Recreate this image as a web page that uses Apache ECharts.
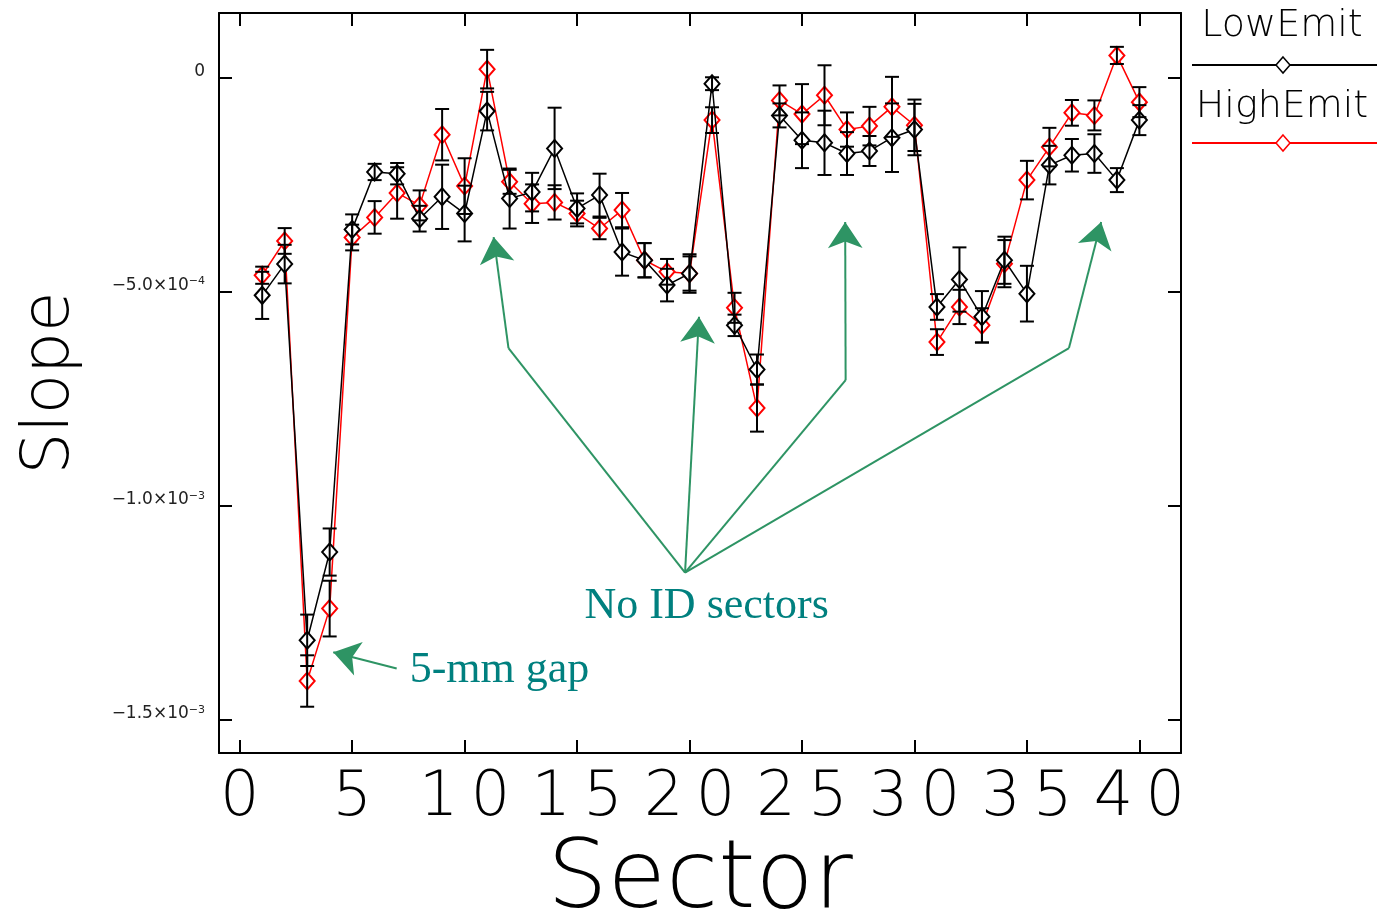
<!DOCTYPE html>
<html>
<head>
<meta charset="utf-8">
<title>Slope vs Sector</title>
<script src="https://cdn.jsdelivr.net/npm/echarts@6/dist/echarts.min.js"></script>
<style>
    html, body { margin: 0; padding: 0; background: #fff; }
    #main { width: 1378px; height: 914px; }
</style>
</head>
<body>
<div id="main"></div>
<script>
    // values
    var sectors = [1, 2, 3, 4, 5, 6, 7, 8, 9, 10, 11, 12, 13, 14, 15, 16, 17, 18, 19, 20,
                   21, 22, 23, 24, 25, 26, 27, 28, 29, 30, 31, 32, 33, 34, 35, 36, 37, 38, 39, 40];
    var lowEmit = [-5.09e-4, -4.36e-4, -13.14e-4, -11.08e-4, -3.55e-4, -2.21e-4, -2.25e-4, -3.30e-4, -2.79e-4, -3.18e-4,
                   -0.79e-4, -2.83e-4, -2.68e-4, -1.66e-4, -3.06e-4, -2.75e-4, -4.08e-4, -4.27e-4, -4.85e-4, -4.58e-4,
                   -0.15e-4, -5.79e-4, -6.82e-4, -0.89e-4, -1.47e-4, -1.53e-4, -1.78e-4, -1.72e-4, -1.41e-4, -1.22e-4,
                   -5.36e-4, -4.72e-4, -5.59e-4, -4.27e-4, -5.05e-4, -2.05e-4, -1.82e-4, -1.78e-4, -2.40e-4, -1.00e-4];
    var lowErr = [0.55e-4, 0.45e-4, 0.60e-4, 0.55e-4, 0.35e-4, 0.19e-4, 0.25e-4, 0.30e-4, 0.75e-4, 0.65e-4,
                  0.45e-4, 0.70e-4, 0.45e-4, 0.95e-4, 0.35e-4, 0.50e-4, 0.55e-4, 0.40e-4, 0.38e-4, 0.45e-4,
                  0.15e-4, 0.25e-4, 0.35e-4, 0.28e-4, 0.65e-4, 0.75e-4, 0.50e-4, 0.35e-4, 0.80e-4, 0.60e-4,
                  0.30e-4, 0.75e-4, 0.60e-4, 0.55e-4, 0.65e-4, 0.45e-4, 0.38e-4, 0.45e-4, 0.28e-4, 0.35e-4];
    var highEmit = [-4.62e-4, -3.82e-4, -14.09e-4, -12.40e-4, -3.74e-4, -3.27e-4, -2.70e-4, -2.99e-4, -1.34e-4, -2.54e-4,
                    0.19e-4, -2.44e-4, -2.95e-4, -2.92e-4, -3.18e-4, -3.53e-4, -3.10e-4, -4.27e-4, -4.54e-4, -4.58e-4,
                    -1.00e-4, -5.38e-4, -7.72e-4, -0.54e-4, -0.86e-4, -0.42e-4, -1.22e-4, -1.14e-4, -0.69e-4, -1.12e-4,
                    -6.18e-4, -5.36e-4, -5.79e-4, -4.35e-4, -2.40e-4, -1.63e-4, -0.83e-4, -0.89e-4, 0.51e-4, -0.58e-4];
    var highErr = [0.20e-4, 0.30e-4, 0.60e-4, 0.65e-4, 0.30e-4, 0.38e-4, 0.60e-4, 0.35e-4, 0.60e-4, 0.65e-4,
                   0.45e-4, 0.28e-4, 0.45e-4, 0.40e-4, 0.30e-4, 0.25e-4, 0.40e-4, 0.40e-4, 0.30e-4, 0.40e-4,
                   0.30e-4, 0.35e-4, 0.55e-4, 0.35e-4, 0.70e-4, 0.70e-4, 0.40e-4, 0.45e-4, 0.70e-4, 0.60e-4,
                   0.30e-4, 0.40e-4, 0.40e-4, 0.55e-4, 0.45e-4, 0.45e-4, 0.30e-4, 0.35e-4, 0.20e-4, 0.35e-4];

    var xTicks = [0, 5, 10, 15, 20, 25, 30, 35, 40];
    var yTicks = [0, -5e-4, -1e-3, -1.5e-3];
    var yTickMant = ['0', '\u22125.0\u00d710', '\u22121.0\u00d710', '\u22121.5\u00d710'];
    var yTickExp = ['', '\u22124', '\u22123', '\u22123'];

    // annotation arrows, in data coordinates (sector, slope)
    var hub = [19.80, -1.156e-3];
    var arrowLegs = [
        [hub, [11.95, -6.32e-4]],
        [hub, [26.94, -7.07e-4]],
        [hub, [36.87, -6.32e-4]]
    ];
    var arrowHeads = [
        [[11.95, -6.32e-4], [11.29, -3.73e-4]],
        [hub, [20.42, -5.59e-4]],
        [[26.94, -7.07e-4], [26.92, -3.38e-4]],
        [[36.87, -6.32e-4], [38.30, -3.38e-4]],
        [[6.98, -1.380e-3], [4.16, -1.342e-3]]
    ];
    var notes = [
        { text: 'No ID sectors', at: [20.76, -1.234e-3] },
        { text: '5-mm gap', at: [11.55, -1.384e-3] }
    ];

    var thinFont = 'DejaVu Sans';
    var teal = '#00807f';
    var green = '#2e9464';

    function zip(xs, ys) {
        return xs.map(function(x, i) { return [x, ys[i]]; });
    }
    function zip3(xs, ys, es) {
        return xs.map(function(x, i) { return [x, ys[i], es[i]]; });
    }

    function renderErr(params, api) {
        var x = api.value(0), y = api.value(1), e = api.value(2);
        var hi = api.coord([x, y + e]);
        var lo = api.coord([x, y - e]);
        var w = 7;
        var st = { stroke: '#000', lineWidth: 2 };
        return {
            type: 'group',
            children: [
                { type: 'line', shape: { x1: hi[0], y1: hi[1], x2: lo[0], y2: lo[1] }, style: st },
                { type: 'line', shape: { x1: hi[0] - w, y1: hi[1], x2: hi[0] + w, y2: hi[1] }, style: st },
                { type: 'line', shape: { x1: lo[0] - w, y1: lo[1], x2: lo[0] + w, y2: lo[1] }, style: st }
            ]
        };
    }

    function yLabel(v) {
        for (var i = 0; i < yTicks.length; i++) {
            if (Math.abs(v - yTicks[i]) < 1e-9) {
                return yTickExp[i] ? yTickMant[i] + '{e|' + yTickExp[i] + '}' : yTickMant[i];
            }
        }
        return '';
    }

    var xMin = -0.92, xMax = 41.85;
    var yMin = -1.577e-3, yMax = 1.5e-4;
    var frame = { show: true, onZero: false, lineStyle: { color: '#000', width: 2 } };
    var ticks = { show: true, inside: true, length: 13, lineStyle: { color: '#000', width: 2 } };

    var chart = echarts.init(document.getElementById('main'));
    chart.setOption({
        animation: false,
        backgroundColor: '#fff',
        grid: { left: 219, right: 197, top: 13, bottom: 161, outerBoundsMode: 'none', containLabel: false },
        xAxis: [{
            type: 'value', min: xMin, max: xMax, position: 'bottom',
            axisLine: frame,
            axisTick: Object.assign({ customValues: xTicks }, ticks),
            axisLabel: {
                customValues: xTicks, margin: 15,
                fontFamily: thinFont, fontWeight: 200, fontSize: 62, color: '#000',
                formatter: function(v) { return String(v).split('').join('\u2009'); }
            },
            splitLine: { show: false },
            name: 'Sector', nameLocation: 'middle', nameGap: 119,
            nameTextStyle: { fontFamily: thinFont, fontWeight: 200, fontSize: 95, color: '#000', verticalAlign: 'middle' }
        }, {
            type: 'value', min: xMin, max: xMax, position: 'top',
            axisLine: frame,
            axisTick: Object.assign({ customValues: xTicks }, ticks),
            axisLabel: { show: false },
            splitLine: { show: false }
        }],
        yAxis: [{
            type: 'value', min: yMin, max: yMax, position: 'left',
            axisLine: frame,
            axisTick: Object.assign({ customValues: yTicks }, ticks),
            axisLabel: {
                customValues: yTicks, margin: 14, padding: [0, 0, 12, 0],
                fontFamily: thinFont, fontSize: 17, color: '#222',
                formatter: yLabel,
                rich: { e: { fontFamily: thinFont, fontSize: 11, color: '#222', verticalAlign: 'top', padding: [0, 0, 8, 0] } }
            },
            splitLine: { show: false },
            name: 'Slope', nameLocation: 'middle', nameGap: 168, nameRotate: 90,
            nameTextStyle: { fontFamily: thinFont, fontWeight: 200, fontSize: 66, color: '#000', verticalAlign: 'middle' }
        }, {
            type: 'value', min: yMin, max: yMax, position: 'right',
            axisLine: frame,
            axisTick: Object.assign({ customValues: yTicks }, ticks),
            axisLabel: { show: false },
            splitLine: { show: false }
        }],
        series: [{
            name: 'HighEmit', type: 'line',
            data: zip(sectors, highEmit),
            symbol: 'emptyDiamond', symbolSize: [15, 17],
            lineStyle: { color: '#ff0000', width: 1.5 },
            itemStyle: { color: '#ff0000', borderWidth: 1.3 },
            z: 3
        }, {
            name: 'LowEmit', type: 'line',
            data: zip(sectors, lowEmit),
            symbol: 'emptyDiamond', symbolSize: [15, 17],
            lineStyle: { color: '#000', width: 1.5 },
            itemStyle: { color: '#000', borderWidth: 1.3 },
            z: 4
        }, {
            type: 'custom', name: 'HighErr',
            data: zip3(sectors, highEmit, highErr),
            renderItem: renderErr, encode: { x: 0, y: 1 }, z: 5
        }, {
            type: 'custom', name: 'LowErr',
            data: zip3(sectors, lowEmit, lowErr),
            renderItem: renderErr, encode: { x: 0, y: 1 }, z: 5
        }, {
            type: 'lines', coordinateSystem: 'cartesian2d',
            data: arrowLegs.map(function(c) { return { coords: c }; }),
            symbol: ['none', 'none'],
            lineStyle: { color: green, width: 2, opacity: 1, curveness: 0 },
            silent: true, z: 6
        }, {
            type: 'lines', coordinateSystem: 'cartesian2d',
            data: arrowHeads.map(function(c) { return { coords: c }; }),
            symbol: ['none', 'arrow'], symbolSize: [18, 26],
            lineStyle: { color: green, width: 2, opacity: 1, curveness: 0 },
            silent: true, z: 6
        }]
    });

    // annotation texts placed through the axes, legend drawn at the right
    var graphics = notes.map(function(n) {
        var p = chart.convertToPixel({ xAxisIndex: 0, yAxisIndex: 0 }, n.at);
        return {
            type: 'text', x: p[0], y: p[1], z: 10,
            style: {
                text: n.text, fill: teal, font: '44px "Liberation Serif"',
                align: 'center', verticalAlign: 'middle'
            }
        };
    });
    var legendItems = [
        { name: 'LowEmit', color: '#000', textY: 26, lineY: 65 },
        { name: 'HighEmit', color: '#ff0000', textY: 107, lineY: 143 }
    ];
    legendItems.forEach(function(it) {
        graphics.push({
            type: 'text', x: 1282, y: it.textY,
            style: {
                text: it.name, fill: '#000', font: '200 38px "DejaVu Sans"',
                align: 'center', verticalAlign: 'middle'
            }
        });
        graphics.push({
            type: 'line', shape: { x1: 1192, y1: it.lineY, x2: 1377, y2: it.lineY },
            style: { stroke: it.color, lineWidth: 2 }
        });
        graphics.push({
            type: 'polygon',
            shape: { points: [[1283, it.lineY - 8], [1290, it.lineY], [1283, it.lineY + 8], [1276, it.lineY]] },
            style: { fill: '#fff', stroke: it.color, lineWidth: 1.5 }
        });
    });
    chart.setOption({ graphic: graphics });
</script>
</body>
</html>
